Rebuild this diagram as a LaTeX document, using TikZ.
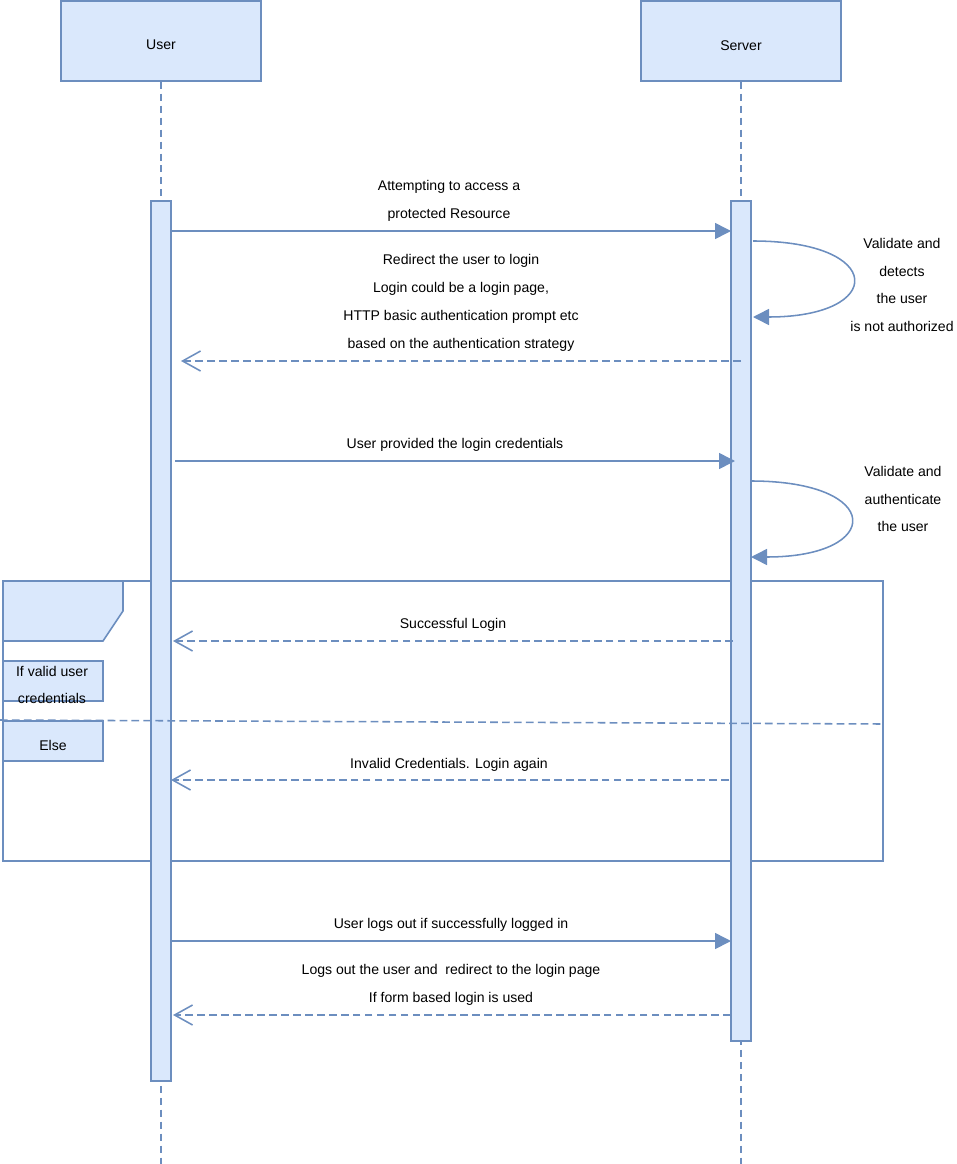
\documentclass[tikz,border=0pt]{standalone}
\usepackage{fontspec}
\setmainfont{Liberation Sans}
\usetikzlibrary{arrows.meta}
\definecolor{Stroke}{HTML}{6C8EBF}
\definecolor{Pale}{HTML}{DAE8FC}
\tikzset{
    lifebox/.style={rectangle, draw=Stroke, fill=Pale, line width=1.1pt, minimum width=5cm, minimum height=2cm},
    barnode/.style={rectangle, draw=Stroke, fill=Pale, line width=1.1pt, minimum width=0.5cm, inner sep=0pt},
    tagbox/.style={rectangle, draw=Stroke, fill=Pale, line width=1.1pt, minimum width=2.5cm, minimum height=1cm, inner sep=0pt},
    lifeline/.style={draw=Stroke, line width=1.1pt, dash pattern=on 5pt off 3.5pt},
    msg/.style={draw=Stroke, line width=1.1pt, -{Triangle[length=0.4cm, width=0.4cm]}},
    reply/.style={draw=Stroke, line width=1.1pt, dash pattern=on 5.5pt off 3pt, -{Straight Barb[length=0.45cm, width=0.5cm]}},
    lbl/.style={align=center, inner sep=0pt, font=\fontsize{10}{19.8}\selectfont},
}
\begin{document}
\begin{tikzpicture}[x=0.025cm, y=-0.025cm]
    \useasboundingbox (0,0) rectangle (956,1164);

    % Linee di vita
    \coordinate (userend) at (161,1164);
    \coordinate (serverend) at (741,1164);
    \node[lifebox, label={[lbl, yshift=-3pt]center:User}] (user) at (161,41) {};
    \node[lifebox, label={[lbl, yshift=-3pt]center:Server}] (server) at (741,41) {};
    \draw[lifeline] (user.south) -- (userend);
    \draw[lifeline] (server.south) -- (serverend);

    % Riquadro alt
    \draw[draw=Stroke, line width=1.1pt] (3,581) rectangle (883,861);
    \draw[draw=Stroke, fill=Pale, line width=1.1pt] (3,581) -- (123,581) -- (123,611) -- (103,641) -- (3,641) -- cycle;

    % Barre di attivazione
    \node[barnode, minimum height=22cm] (userbar) at (161,641) {};
    \node[barnode, minimum height=21cm] (serverbar) at (741,621) {};

    % Separatore alt / else
    \coordinate (sepl) at (0,720);
    \coordinate (sepr) at (883,724);
    \draw[Stroke, line width=1.1pt, dash pattern=on 5.5pt off 3pt] (sepl) -- (sepr);
    \node[tagbox] (validbox) at (53,681) {};
    \node[lbl] (validtxt) at (52,685) {If valid user\\credentials};
    \node[tagbox, label={[lbl, yshift=-3pt]center:Else}] (elsebox) at (53,741) {};

    % Punti dei messaggi
    \coordinate (a1) at (171,231);  \coordinate (b1) at (731,231);
    \coordinate (a2) at (753,241);  \coordinate (b2) at (753,317);
    \coordinate (a3) at (741,361);  \coordinate (b3) at (181,361);
    \coordinate (a4) at (175,461);  \coordinate (b4) at (735,461);
    \coordinate (a5) at (751,481);  \coordinate (b5) at (751,557);
    \coordinate (a6) at (733,641);  \coordinate (b6) at (173,641);
    \coordinate (a7) at (729,780);  \coordinate (b7) at (171,780);
    \coordinate (a8) at (171,941);  \coordinate (b8) at (731,941);
    \coordinate (a9) at (731,1015); \coordinate (b9) at (173,1015);

    % Richiesta della risorsa
    \draw[msg] (a1) -- (b1);
    \node[lbl] (t1) at (449,201) {Attempting to access a\\protected Resource};

    % Verifica lato server
    \draw[msg] (a2) .. controls (886,241) and (886,317) .. (b2);
    \node[lbl] (t2) at (902,285) {Validate and\\detects\\the user\\is not authorized};

    % Redirect al login
    \draw[reply] (a3) -- (b3);
    \node[lbl] (t3) at (461,303) {Redirect the user to login\\Login could be a login page,\\HTTP basic authentication prompt etc\\based on the authentication strategy};

    % Credenziali
    \draw[msg] (a4) -- (b4);
    \node[lbl] (t4) at (455,445) {User provided the login credentials};

    \draw[msg] (a5) .. controls (884,481) and (884,557) .. (b5);
    \node[lbl] (t5) at (903,499) {Validate and\\authenticate\\the user};

    % Risposte alt
    \draw[reply] (a6) -- (b6);
    \node[lbl] (t6) at (453,625) {Successful Login};
    \draw[reply] (a7) -- (b7);
    \node[lbl] (t7) at (449,765) {Invalid Credentials. Login again};

    % Logout
    \draw[msg] (a8) -- (b8);
    \node[lbl] (t8) at (451,925) {User logs out if successfully logged in};
    \draw[reply] (a9) -- (b9);
    \node[lbl] (t9) at (451,985) {Logs out the user and\ \ redirect to the login page\\If form based login is used};
\end{tikzpicture}
\end{document}
